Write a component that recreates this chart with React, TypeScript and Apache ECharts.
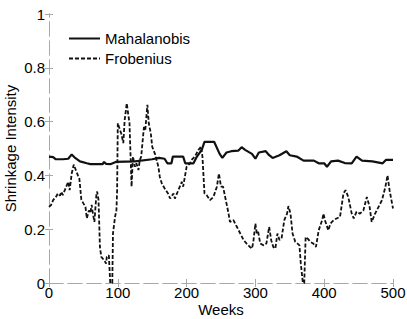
import React, { useEffect, useRef } from "react";
import * as echarts from "echarts";

// Weekly shrinkage intensity under two loss functions: [week, intensity]
const mahalanobis: [number, number][] = [
  [0, 0.47], [6, 0.468], [10, 0.46], [20, 0.46], [28, 0.462], [33, 0.478], [38, 0.465],
  [45, 0.452], [55, 0.445], [60, 0.442], [78, 0.442], [80, 0.45], [83, 0.443], [90, 0.442],
  [97, 0.45], [125, 0.452], [150, 0.46], [160, 0.465], [168, 0.462], [172, 0.445],
  [178, 0.445], [180, 0.47], [195, 0.47], [198, 0.445], [210, 0.445], [215, 0.47],
  [222, 0.495], [226, 0.525], [240, 0.525], [248, 0.48], [252, 0.465], [258, 0.485],
  [265, 0.49], [275, 0.492], [280, 0.505], [285, 0.495], [295, 0.48], [300, 0.462],
  [305, 0.485], [315, 0.49], [320, 0.475], [325, 0.465], [335, 0.475], [345, 0.49],
  [350, 0.475], [360, 0.47], [370, 0.455], [385, 0.455], [392, 0.445], [400, 0.445],
  [404, 0.432], [410, 0.452], [420, 0.455], [430, 0.446], [440, 0.445], [447, 0.47],
  [455, 0.455], [470, 0.452], [485, 0.445], [490, 0.458], [500, 0.458],
];

const frobenius: [number, number][] = [
  [0, 0.283], [3, 0.29], [6, 0.308], [10, 0.32], [13, 0.333], [16, 0.325], [18, 0.339],
  [20, 0.327], [23, 0.345], [25, 0.358], [28, 0.376], [30, 0.345], [33, 0.407], [36, 0.44],
  [39, 0.42], [42, 0.4], [44, 0.39], [45, 0.365], [47, 0.31], [50, 0.296], [53, 0.283],
  [55, 0.24], [58, 0.27], [60, 0.26], [62, 0.29], [64, 0.255], [66, 0.227], [69, 0.333],
  [70, 0.34], [72, 0.308], [74, 0.134], [76, 0.097], [80, 0.085], [83, 0.072], [84, 0.097],
  [87, 0.103], [89, 0], [92, 0], [93, 0.184], [96, 0.246], [98, 0.27], [99, 0.345],
  [100, 0.594], [103, 0.57], [105, 0.556], [108, 0.52], [110, 0.606], [113, 0.668],
  [115, 0.63], [117, 0.594], [120, 0.358], [122, 0.47], [125, 0.432], [127, 0.445],
  [130, 0.42], [132, 0.457], [134, 0.47], [138, 0.58], [140, 0.57], [143, 0.662],
  [145, 0.594], [148, 0.556], [150, 0.507], [154, 0.48], [159, 0.432], [161, 0.395],
  [164, 0.37], [168, 0.352], [173, 0.333], [176, 0.314], [181, 0.333], [183, 0.314],
  [188, 0.345], [193, 0.376], [195, 0.358], [200, 0.432], [205, 0.445], [207, 0.457],
  [212, 0.47], [217, 0.494], [221, 0.507], [223, 0.47], [226, 0.333], [229, 0.327],
  [234, 0.308], [239, 0.32], [244, 0.358], [247, 0.407], [250, 0.358], [253, 0.358],
  [257, 0.308], [261, 0.258], [263, 0.227], [268, 0.234], [273, 0.209], [278, 0.184],
  [283, 0.159], [287, 0.147], [292, 0.134], [295, 0.128], [297, 0.153], [300, 0.221],
  [302, 0.184], [304, 0.19], [307, 0.147], [312, 0.14], [316, 0.147], [320, 0.209],
  [323, 0.159], [326, 0.134], [329, 0.128], [332, 0.184], [335, 0.16], [338, 0.165],
  [342, 0.234], [346, 0.258], [348, 0.286], [351, 0.258], [354, 0.184], [358, 0.153],
  [361, 0.147], [364, 0.14], [366, 0.072], [369, 0], [371, 0], [373, 0.171], [376, 0.165],
  [380, 0.153], [384, 0.147], [388, 0.134], [392, 0.196], [397, 0.234], [399, 0.258],
  [401, 0.234], [406, 0.196], [409, 0.221], [414, 0.234], [418, 0.24], [423, 0.246],
  [428, 0.333], [431, 0.345], [435, 0.32], [440, 0.258], [443, 0.24], [447, 0.265],
  [452, 0.258], [457, 0.27], [462, 0.32], [466, 0.283], [469, 0.227], [474, 0.258],
  [479, 0.283], [484, 0.308], [489, 0.358], [492, 0.4], [495, 0.345], [500, 0.277],
];

const FONT = "'Liberation Sans', Arial, sans-serif";
const TEXT = "#000";
const FRAME = {
  show: true,
  lineStyle: { color: "#a8a8a8", width: 1, type: [14, 5] as number[] },
};
const TICK_IN = { show: true, inside: true, length: 4, lineStyle: { color: "#a8a8a8" } };

export default function App() {
  const ref = useRef<HTMLDivElement>(null);

  useEffect(() => {
    if (!ref.current) return;
    const chart = echarts.init(ref.current, undefined, { renderer: "svg" });
    chart.setOption({
      animation: false,
      backgroundColor: "#fff",
      textStyle: { fontFamily: FONT },
      grid: { left: 49, right: 14, top: 14, bottom: 36, outerBoundsMode: "none", containLabel: false },
      legend: {
        orient: "vertical",
        left: 68,
        top: 31,
        padding: 0,
        itemWidth: 31,
        itemHeight: 15,
        itemGap: 5,
        data: ["Mahalanobis", "Frobenius"],
        itemStyle: { color: "transparent", borderWidth: 0, opacity: 0 },
        textStyle: { fontFamily: FONT, fontSize: 15, color: TEXT },
      },
      xAxis: [
        {
          type: "value",
          min: 0,
          max: 500,
          interval: 100,
          name: "Weeks",
          nameLocation: "middle",
          nameGap: 19,
          nameMoveOverlap: false,
          nameTextStyle: { fontFamily: FONT, fontSize: 15, color: TEXT },
          axisLine: FRAME,
          axisTick: TICK_IN,
          axisLabel: { fontFamily: FONT, fontSize: 15, color: TEXT, margin: 2 },
          splitLine: { show: false },
        },
        {
          type: "value",
          position: "top",
          min: 0,
          max: 500,
          interval: 100,
          axisLine: FRAME,
          axisTick: TICK_IN,
          axisLabel: { show: false },
          splitLine: { show: false },
        },
      ],
      yAxis: [
        {
          type: "value",
          min: 0,
          max: 1,
          interval: 0.2,
          name: "Shrinkage Intensity",
          nameLocation: "middle",
          nameGap: 31,
          nameMoveOverlap: false,
          nameTextStyle: { fontFamily: FONT, fontSize: 15, color: TEXT },
          axisLine: FRAME,
          axisTick: TICK_IN,
          axisLabel: { fontFamily: FONT, fontSize: 15, color: TEXT, margin: 4 },
          splitLine: { show: false },
        },
        {
          type: "value",
          position: "right",
          min: 0,
          max: 1,
          interval: 0.2,
          axisLine: FRAME,
          axisTick: TICK_IN,
          axisLabel: { show: false },
          splitLine: { show: false },
        },
      ],
      series: [
        {
          name: "Mahalanobis",
          type: "line",
          data: mahalanobis,
          symbol: "none",
          z: 3,
          lineStyle: { color: "#111", width: 2.2, type: "solid" },
          itemStyle: { color: "#111" },
        },
        {
          name: "Frobenius",
          type: "line",
          data: frobenius,
          symbol: "none",
          z: 2,
          lineStyle: { color: "#111", width: 1.8, type: [4, 2] },
          itemStyle: { color: "#111" },
        },
      ],
    });
    return () => chart.dispose();
  }, []);

  return (
    <div
      ref={ref}
      style={{ position: "fixed", left: 0, top: 0, width: 407, height: 319, background: "#fff" }}
    />
  );
}
